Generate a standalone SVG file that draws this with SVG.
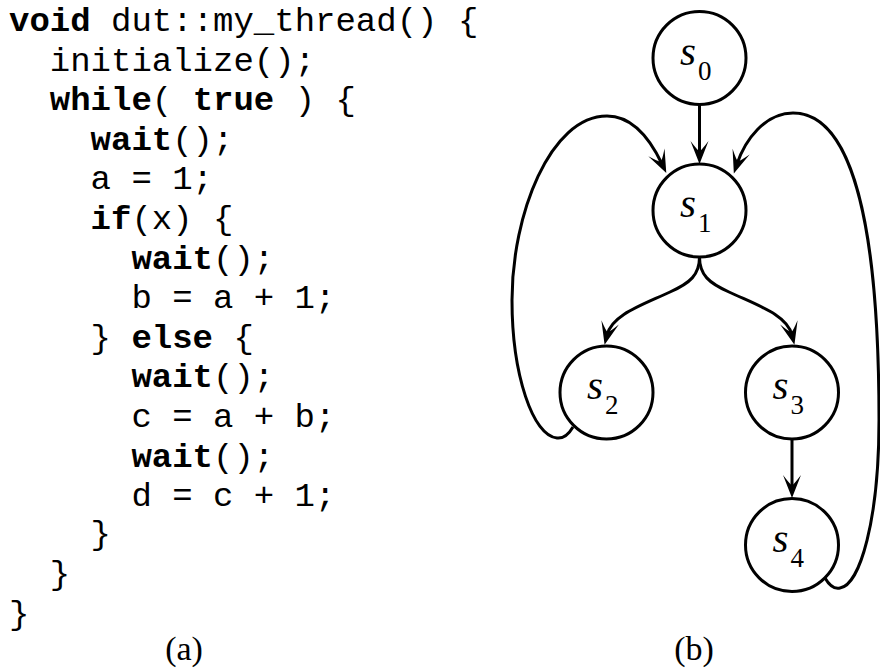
<svg xmlns="http://www.w3.org/2000/svg" width="880" height="668" viewBox="0 0 880 668">
<style>
.code{font-family:"Liberation Mono","Courier New",monospace;font-size:34px;fill:#000;white-space:pre}
.kw{font-weight:bold}
.node{fill:#fff;stroke:#000;stroke-width:3}
.lbl{font-family:"Liberation Serif","Times New Roman",serif;font-style:italic;font-size:41px;fill:#000}
.sub{font-family:"Liberation Serif","Times New Roman",serif;font-size:27px;fill:#000}
.cap{font-family:"Liberation Serif","Times New Roman",serif;font-size:34px;fill:#000;text-anchor:middle}
.edge{fill:none;stroke:#000;stroke-width:3}
</style>
<defs>
<marker id="arr" markerUnits="userSpaceOnUse" markerWidth="30" markerHeight="20" refX="13" refY="0" orient="auto" overflow="visible">
<path d="M23,0 L0,-9 Q10,-1.5 10,0 Q10,1.5 0,9 Z" fill="#000"/>
</marker>
</defs>
<rect width="880" height="668" fill="#fff"/>
<g id="code" class="code">
<text x="9" y="31"><tspan class="kw">void</tspan> dut::my_thread() {</text>
<text x="49.8" y="70.6">initialize();</text>
<text x="49.8" y="110.2"><tspan class="kw">while</tspan>( <tspan class="kw">true</tspan> ) {</text>
<text x="90.6" y="149.8"><tspan class="kw">wait</tspan>();</text>
<text x="90.6" y="189.4">a = 1;</text>
<text x="90.6" y="229"><tspan class="kw">if</tspan>(x) {</text>
<text x="131.4" y="268.6"><tspan class="kw">wait</tspan>();</text>
<text x="131.4" y="308.2">b = a + 1;</text>
<text x="90.6" y="347.8">} <tspan class="kw">else</tspan> {</text>
<text x="131.4" y="387.4"><tspan class="kw">wait</tspan>();</text>
<text x="131.4" y="427">c = a + b;</text>
<text x="131.4" y="466.6"><tspan class="kw">wait</tspan>();</text>
<text x="131.4" y="506.2">d = c + 1;</text>
<text x="90.6" y="544">}</text>
<text x="49.8" y="584">}</text>
<text x="9" y="624">}</text>
</g>
<text class="cap" x="184" y="660">(a)</text>
<text class="cap" x="694" y="660">(b)</text>
<g id="connectors">
<path class="edge" d="M699.5,105 L699.5,154" marker-end="url(#arr)"/>
<path class="edge" d="M792,439 L792,488" marker-end="url(#arr)"/>
<path class="edge" d="M699.5,257 C699.5,275 690,283 670,292 C640,306 612,315 607,335" marker-end="url(#arr)"/>
<path class="edge" d="M699.5,257 C699.5,275 709,283 729,292 C759,306 787,315 792,335" marker-end="url(#arr)"/>
<path class="edge" d="M573,427 Q566,439 557,438 C533,436 512,375 512,300 C512,215 550,116 607,116 C635,116 652,143 662,164" marker-end="url(#arr)"/>
<path class="edge" d="M825,578 Q832,590 840,588 C860,585 879,520 879,420 C879,240 856,113 793,113 C765,113 745,140 737,164" marker-end="url(#arr)"/>
</g>
<g id="s0"><circle class="node" cx="699.5" cy="58" r="46.5"/><text class="lbl" x="680" y="65">s</text><text class="sub" x="698" y="80">0</text></g>
<g id="s1"><circle class="node" cx="699.5" cy="210.5" r="46.5"/><text class="lbl" x="680" y="217">s</text><text class="sub" x="698" y="232">1</text></g>
<g id="s2"><circle class="node" cx="606.5" cy="392.5" r="46.5"/><text class="lbl" x="587" y="399">s</text><text class="sub" x="605" y="414">2</text></g>
<g id="s3"><circle class="node" cx="792" cy="392.5" r="46.5"/><text class="lbl" x="772.5" y="399">s</text><text class="sub" x="790.5" y="414">3</text></g>
<g id="s4"><circle class="node" cx="792" cy="545" r="46.5"/><text class="lbl" x="772.5" y="552">s</text><text class="sub" x="790.5" y="567">4</text></g>
</svg>
